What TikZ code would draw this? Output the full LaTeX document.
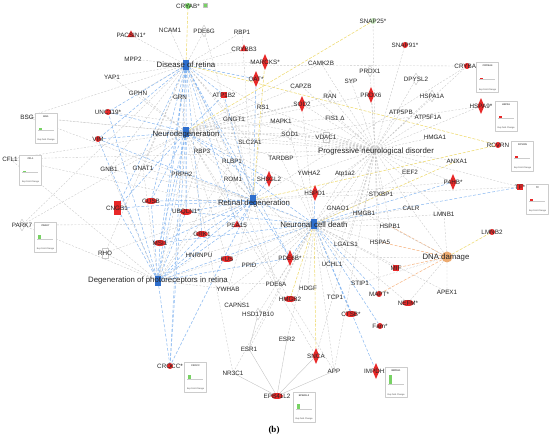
\documentclass[tikz,border=0pt]{standalone}
\usepackage{fontspec}
\setmainfont{Liberation Sans}
\newfontfamily\capfont{Liberation Serif}
\usetikzlibrary{shapes.geometric}
\definecolor{ipared}{RGB}{232,40,40}
\definecolor{ipagreen}{RGB}{120,210,100}
\definecolor{ipapale}{RGB}{200,232,190}
\definecolor{ipahub}{RGB}{45,110,205}
\definecolor{ipaorange}{RGB}{236,170,112}
\definecolor{eblue}{RGB}{135,183,240}
\definecolor{eyellow}{RGB}{238,218,110}
\definecolor{eorange}{RGB}{246,182,132}
\pgfdeclarelayer{bg}
\pgfsetlayers{bg,main}
\tikzstyle{every node}=[font=\fontsize{6.3}{7}\selectfont]
\tikzstyle{every path}=[line width=0.4pt,line join=round]
% labels and markers
\tikzstyle{lbl}=[inner sep=0pt,text=black!85]
\tikzstyle{hublbl}=[inner sep=0pt,text=black!85,font=\fontsize{7.8}{9}\selectfont]
\tikzstyle{gmark}=[circle,draw=gray!30,minimum size=4pt,inner sep=0pt]
\tikzstyle{gdia}=[diamond,draw=gray!45,minimum width=7pt,minimum height=12pt,inner sep=0pt]
\tikzstyle{grect}=[rectangle,draw=gray!45,minimum width=6pt,minimum height=10pt,inner sep=0pt]
\tikzstyle{rdia}=[diamond,fill=ipared,minimum width=7pt,minimum height=16pt,inner sep=0pt]
\tikzstyle{rdot}=[circle,fill=ipared,minimum size=6pt,inner sep=0pt]
\tikzstyle{rell}=[ellipse,fill=ipared,minimum width=12pt,minimum height=6pt,inner sep=0pt]
\tikzstyle{rsq}=[rectangle,fill=ipared,minimum size=6.5pt,inner sep=0pt]
\tikzstyle{rbar}=[rectangle,fill=ipared,minimum width=7pt,minimum height=14pt,inner sep=0pt]
\tikzstyle{rtri}=[regular polygon,regular polygon sides=3,fill=ipared,minimum size=9pt,inner sep=0pt]
\tikzstyle{gdot}=[circle,fill=ipagreen,minimum size=6pt,inner sep=0pt]
\tikzstyle{pdot}=[circle,fill=ipapale,minimum size=6pt,inner sep=0pt]
\tikzstyle{flag}=[rectangle,draw=gray!50,minimum size=4pt,inner sep=0pt]
\tikzstyle{hub}=[rectangle,fill=ipahub,minimum width=6pt,minimum height=10pt,inner sep=0pt]
\tikzstyle{ghub}=[circle,fill=gray!30,minimum size=6pt,inner sep=0pt]
\tikzstyle{ohub}=[circle,fill=ipaorange,minimum size=11pt,inner sep=0pt]
\tikzstyle{fbox}=[rectangle,draw=gray!40,fill=white,minimum width=22pt,minimum height=30pt,inner sep=0pt]
\tikzstyle{ftxt}=[inner sep=0pt,text=black!70,font=\fontsize{2.2}{2.6}\selectfont]
% connectors
\tikzstyle{eg}=[draw=gray!45,line width=0.35pt,dash pattern=on 2pt off 1.5pt]
\tikzstyle{eb}=[draw=eblue,line width=0.5pt,dash pattern=on 3pt off 1.8pt]
\tikzstyle{ey}=[draw=eyellow,line width=0.55pt,dash pattern=on 3pt off 1.5pt]
\tikzstyle{eo}=[draw=eorange,line width=0.55pt,dash pattern=on 3pt off 1.5pt]
\tikzstyle{es}=[draw=gray!50,line width=0.35pt]
\newcommand{\gene}[4]{\node[#3] (#1) at (#2) {};\node[lbl] (#1t) at (#2) {#4};}
\newcommand{\foldbox}[5]{%
  \node[fbox] (#1) at (#2) {};
  \node[ftxt,font=\fontsize{2.4}{2.8}\selectfont\bfseries] (#1t) at ([yshift=-3.5pt]#1.north) {#3};
  \draw[gray!40,line width=0.2pt] ([xshift=3pt,yshift=-17pt]#1.north west) -- ++(16pt,0pt);
  \fill[#4] ([xshift=4pt,yshift=-17pt]#1.north west) rectangle ++(3pt,#5);
  \node[ftxt] (#1c) at ([yshift=3pt]#1.south) {Exp Fold Change};}

\begin{document}
\begin{tikzpicture}[x=1pt,y=-1pt]
  \useasboundingbox (0,0) rectangle (550,438);
  % hubs
  \node[hub] (DR) at (186,65) {};
  \node[hublbl] (DRt) at (186,65) {Disease of retina};
  \node[hub] (ND) at (186,132) {};
  \node[hublbl] (NDt) at (186,134) {Neurodegeneration};
  \node[hub] (RD) at (253,200) {};
  \node[hublbl] (RDt) at (254,203) {Retinal degeneration};
  \node[hub] (NCD) at (314,224) {};
  \node[hublbl] (NCDt) at (314,225) {Neuronal cell death};
  \node[hub] (DP) at (158,281) {};
  \node[hublbl] (DPt) at (158,280) {Degeneration of photoreceptors in retina};
  \node[ghub] (PND) at (375,150) {};
  \node[hublbl] (PNDt) at (376,151) {Progressive neurological disorder};
  \node[ohub] (DD) at (447,257) {};
  \node[hublbl] (DDt) at (446,257) {DNA damage};
  % top and upper left
  \gene{CRYAB}{188,6}{gdot}{CRYAB*}
  \node[flag,fill=ipagreen] (CRYABf) at (205,5) {};
  \gene{NCAM1}{170,30}{gmark}{NCAM1}
  \gene{PDE6G}{204,31}{gdia}{PDE6G}
  \gene{RBP1}{242,32}{gmark}{RBP1}
  \gene{CRX3}{244,49}{rtri}{CRYBB3}
  \gene{MARCKS}{265,62}{rdia}{MARCKS*}
  \gene{OAT}{256,79}{rdia}{OAT*}
  \gene{PACSIN1}{131,35}{rtri}{PACSIN1*}
  \gene{MPP2}{133,59}{gmark}{MPP2}
  \gene{YAP1}{112,77}{gmark}{YAP1}
  \gene{GPHN}{138,93}{gmark}{GPHN}
  \gene{BSG}{27,117}{gmark}{BSG}
  \gene{UNC119}{108,112}{rdot}{UNC119*}
  \gene{VIM}{98,139}{rdot}{VIM}
  \gene{GRN}{180,97}{gmark}{GRN}
  \gene{ATP1B2}{224,95}{rsq}{ATP1B2}
  \gene{RS1}{263,107}{gmark}{RS1}
  \gene{GNGT1}{234,119}{gmark}{GNGT1}
  \gene{MAPK1}{281,121}{gmark}{MAPK1}
  \gene{SLC2A1}{250,142}{gmark}{SLC2A1}
  % upper right
  \gene{SNAP25}{373,21}{pdot}{SNAP25*}
  \gene{SNAP91}{405,45}{rdot}{SNAP91*}
  \gene{CAMK2B}{321,63}{gmark}{CAMK2B}
  \gene{PRDX1}{370,71}{gdia}{PRDX1}
  \gene{SYP}{351,81}{gmark}{SYP}
  \gene{DPYSL2}{416,79}{gdia}{DPYSL2}
  \gene{CAPZB}{301,86}{gmark}{CAPZB}
  \gene{RAN}{330,96}{gdia}{RAN}
  \gene{PRDX6}{371,95}{rdia}{PRDX6}
  \gene{SOD2}{302,104}{rdia}{SOD2}
  \gene{ATP5PB}{401,112}{gmark}{ATP5PB}
  \gene{FIS1}{335,118}{gmark}{FIS1 Δ}
  \gene{SOD1}{290,134}{gdia}{SOD1}
  \gene{VDAC1}{326,137}{grect}{VDAC1}
  \gene{CRX4}{467,66}{rdot}{CRYBA4}
  \gene{HSPA1A}{432,96}{gdia}{HSPA1A}
  \gene{HSPA9}{481,106}{rdia}{HSPA9*}
  \gene{ATP5F1A}{428,117}{gmark}{ATP5F1A}
  \gene{HMGA1}{435,137}{gmark}{HMGA1}
  \gene{RCVRN}{498,145}{rdot}{RCVRN}
  \gene{ANXA1}{457,161}{gmark}{ANXA1}
  \gene{EEF2}{410,172}{gmark}{EEF2}
  \gene{P4HB}{453,182}{rdia}{P4HB*}
  \gene{TF}{520,187}{rsq}{TF*}
  \gene{CALR}{411,208}{gmark}{CALR}
  \gene{LMNB1}{444,214}{gmark}{LMNB1}
  \gene{LMNB2}{492,232}{rdot}{LMNB2}
  \gene{APEX1}{447,292}{gmark}{APEX1}
  % left and middle
  \gene{CFL1}{10,159}{gmark}{CFL1}
  \gene{GNB1}{109,169}{gmark}{GNB1}
  \gene{GNAT1}{143,168}{gmark}{GNAT1}
  \gene{CNGB1}{117,208}{rbar}{CNGB1}
  \gene{PARK7}{22,225}{gdia}{PARK7}
  \gene{RHO}{105,253}{grect}{RHO}
  \gene{RBP3}{202,151}{gmark}{RBP3}
  \gene{RLBP1}{232,161}{gmark}{RLBP1}
  \gene{PRPH2}{182,174}{gmark}{PRPH2}
  \gene{ROM1}{233,179}{gmark}{ROM1}
  \gene{SH3GL2}{269,179}{rdia}{SH3GL2}
  \gene{TARDBP}{281,158}{gmark}{TARDBP}
  \gene{GUSB}{151,201}{rell}{GUSB}
  \gene{UBQLN1}{186,212}{rell}{UBQLN1*}
  \gene{PEA15}{237,225}{rtri}{PEA15}
  \gene{GRK1}{202,234}{rell}{GRK1}
  \gene{MSI1}{160,243}{rell}{MSI1}
  \gene{HNRNPU}{199,255}{gmark}{HNRNPU}
  \gene{FUS}{227,259}{rell}{FUS}
  \gene{PPID}{249,265}{gmark}{PPID}
  \gene{YWHAB}{228,289}{gmark}{YWHAB}
  \gene{YWHAZ}{309,173}{gmark}{YWHAZ}
  \gene{Atp1a2}{345,174}{gmark}{Atp1a2}
  \gene{HSPD1}{315,193}{rdia}{HSPD1}
  \gene{STXBP1}{381,194}{gmark}{STXBP1}
  \gene{GNAO1}{338,208}{gmark}{GNAO1}
  \gene{HMGB1}{364,213}{gmark}{HMGB1}
  \gene{HSPB1}{390,226}{gmark}{HSPB1}
  \gene{LGALS1}{346,244}{gmark}{LGALS1}
  \gene{HSPA5}{380,242}{gmark}{HSPA5}
  \gene{PDE6B}{290,258}{rdia}{PDE6B*}
  \gene{UCHL1}{332,264}{gmark}{UCHL1}
  \gene{MIF}{396,268}{rsq}{MIF}
  \gene{PDE6A}{276,284}{gmark}{PDE6A}
  \gene{HDGF}{308,288}{gmark}{HDGF}
  \gene{STIP1}{360,283}{gmark}{STIP1}
  \gene{MAPT}{379,294}{rdot}{MAPT*}
  % bottom
  \gene{HMGB2}{290,299}{rell}{HMGB2}
  \gene{TCP1}{335,297}{gmark}{TCP1}
  \gene{NEFM}{408,303}{rell}{NEFM*}
  \gene{CTSB}{351,314}{rell}{CTSB*}
  \gene{FAM}{380,326}{rdot}{Fam*}
  \gene{CAPNS1}{237,305}{gmark}{CAPNS1}
  \gene{HSD17B10}{258,314}{gdia}{HSD17B10}
  \gene{ESR2}{287,339}{gmark}{ESR2}
  \gene{ESR1}{249,349}{gmark}{ESR1}
  \gene{SNCA}{316,356}{rdia}{SNCA}
  \gene{CROCC}{170,366}{rdot}{CROCC*}
  \gene{NR3C1}{233,373}{gmark}{NR3C1}
  \gene{APP}{334,371}{gmark}{APP}
  \gene{IMPDH1}{376,371}{rdia}{IMPDH1}
  \gene{EPB41L2}{277,396}{rell}{EPB41L2}
  % fold change charts
  \foldbox{BSGfc}{46,128}{BSG}{ipagreen}{2pt}
  \foldbox{CFL1fc}{30.5,170}{CFL1}{ipagreen}{1pt}
  \foldbox{PARK7fc}{45.5,237}{PARK7}{ipagreen}{4pt}
  \foldbox{CRX4fc}{487.5,77.5}{CRYBA4}{ipared}{1.5pt}
  \foldbox{HSPA9fc}{506,116}{HSPA9}{ipared}{1.5pt}
  \foldbox{RCVRNfc}{522.5,156}{RCVRN}{ipared}{1.5pt}
  \foldbox{TFfc}{537.5,199}{TF}{ipared}{1.5pt}
  \foldbox{CROCCfc}{195.5,377}{CROCC}{ipagreen}{4pt}
  \foldbox{EPBfc}{304,407}{EPB41L2}{ipagreen}{5pt}
  \foldbox{IMPDHfc}{396,382.5}{IMPDH1}{ipagreen}{9pt}
  \node[font={\capfont\bfseries\fontsize{9}{10}\selectfont}] (cap) at (274,430) {(b)};
  \begin{pgfonlayer}{bg}
    % disease of retina
    \draw[ey] (DR) -- (CRYAB) (DR) -- (RCVRN);
    \draw[eg] (DR) -- (NCAM1) (DR) -- (PDE6G) (DR) -- (RBP1) (DR) -- (CRX3) (DR) -- (MARCKS)
      (DR) -- (PACSIN1) (DR) -- (MPP2) (DR) -- (YAP1) (DR) -- (GPHN) (DR) -- (BSG) (DR) -- (GRN)
      (DR) -- (RS1) (DR) -- (GNGT1) (DR) -- (CRX4) (DR) -- (RHO) (DR) -- (GNAT1) (DR) -- (GNB1)
      (DR) -- (PRPH2) (DR) -- (RBP3) (DR) -- (RLBP1) (DR) -- (ROM1) (DR) -- (SLC2A1) (DR) -- (PARK7)
      (DR) -- (PDE6A);
    \draw[eb] (DR) -- (UNC119) (DR) -- (VIM) (DR) -- (ATP1B2) (DR) -- (OAT) (DR) -- (CNGB1)
      (DR) -- (GUSB) (DR) -- (UBQLN1) (DR) -- (MSI1) (DR) -- (DP) (DR) -- (CROCC) (DR) -- (GRK1)
      (DR) -- (PEA15) (DR) -- (PDE6B) (DR) -- (ND) (DR) -- (RD);
    % neurodegeneration
    \draw[ey] (ND) -- (SNAP25);
    \draw[eb] (ND) -- (UNC119) (ND) -- (VIM) (ND) -- (CNGB1) (ND) -- (ATP1B2) (ND) -- (UBQLN1)
      (ND) -- (MSI1) (ND) -- (DP) (ND) -- (CROCC) (ND) -- (GUSB) (ND) -- (SH3GL2) (ND) -- (NCD);
    \draw[eg] (ND) -- (BSG) (ND) -- (CFL1) (ND) -- (GNB1) (ND) -- (GPHN) (ND) -- (YAP1) (ND) -- (GRN)
      (ND) -- (SOD2) (ND) -- (SOD1) (ND) -- (MAPK1) (ND) -- (CAMK2B) (ND) -- (FIS1) (ND) -- (VDAC1)
      (ND) -- (PRDX6) (ND) -- (TARDBP) (ND) -- (SLC2A1) (ND) -- (FUS) (ND) -- (SNCA) (ND) -- (APP)
      (ND) -- (HSPD1) (ND) -- (UCHL1) (ND) -- (PARK7) (ND) -- (GNAT1) (ND) -- (RS1) (ND) -- (CAPZB)
      (ND) -- (RAN) (ND) -- (NR3C1);
    % retinal degeneration
    \draw[ey] (RD) -- (RCVRN) (RD) -- (MARCKS);
    \draw[eb] (RD) -- (OAT) (RD) -- (CNGB1) (RD) -- (GUSB) (RD) -- (PEA15) (RD) -- (GRK1)
      (RD) -- (PDE6B) (RD) -- (CROCC) (RD) -- (UBQLN1) (RD) -- (MSI1) (RD) -- (DP) (RD) -- (ATP1B2)
      (RD) -- (SH3GL2);
    \draw[eg] (RD) -- (RLBP1) (RD) -- (ROM1) (RD) -- (RBP3) (RD) -- (PRPH2) (RD) -- (GNAT1)
      (RD) -- (RHO) (RD) -- (PDE6A) (RD) -- (GNGT1) (RD) -- (RS1) (RD) -- (TF) (RD) -- (P4HB)
      (RD) -- (CRX4) (RD) -- (PDE6G) (RD) -- (RBP1) (RD) -- (YWHAB) (RD) -- (GNB1);
    % neuronal cell death
    \draw[ey] (NCD) -- (SNCA) (NCD) -- (HMGB2) (NCD) -- (ANXA1);
    \draw[eb] (NCD) -- (HSPD1) (NCD) -- (PDE6B) (NCD) -- (TF) (NCD) -- (P4HB) (NCD) -- (MAPT)
      (NCD) -- (CTSB) (NCD) -- (FAM) (NCD) -- (DP) (NCD) -- (UBQLN1) (NCD) -- (VIM) (NCD) -- (MSI1)
      (NCD) -- (IMPDH1);
    \draw[eg] (NCD) -- (YWHAZ) (NCD) -- (Atp1a2) (NCD) -- (GNAO1) (NCD) -- (HMGB1) (NCD) -- (HSPB1)
      (NCD) -- (LGALS1) (NCD) -- (HSPA5) (NCD) -- (UCHL1) (NCD) -- (MIF) (NCD) -- (HDGF)
      (NCD) -- (STIP1) (NCD) -- (NEFM) (NCD) -- (APP) (NCD) -- (ESR2) (NCD) -- (TCP1) (NCD) -- (PDE6A)
      (NCD) -- (CAPNS1) (NCD) -- (HSD17B10) (NCD) -- (YWHAB) (NCD) -- (PPID) (NCD) -- (FUS)
      (NCD) -- (HNRNPU) (NCD) -- (ESR1) (NCD) -- (NR3C1) (NCD) -- (CALR) (NCD) -- (EEF2)
      (NCD) -- (STXBP1) (NCD) -- (SOD1) (NCD) -- (SOD2) (NCD) -- (PARK7) (NCD) -- (CFL1) (NCD) -- (BSG)
      (NCD) -- (TARDBP) (NCD) -- (APEX1) (NCD) -- (LMNB1) (NCD) -- (PND);
    % progressive neurological disorder
    \draw[eg] (PND) -- (SNAP25) (PND) -- (SNAP91) (PND) -- (PRDX1) (PND) -- (PRDX6) (PND) -- (CAMK2B)
      (PND) -- (SYP) (PND) -- (DPYSL2) (PND) -- (HSPA1A) (PND) -- (HSPA9) (PND) -- (ATP5PB)
      (PND) -- (ATP5F1A) (PND) -- (HMGA1) (PND) -- (ANXA1) (PND) -- (EEF2) (PND) -- (P4HB) (PND) -- (TF)
      (PND) -- (CALR) (PND) -- (STXBP1) (PND) -- (HMGB1) (PND) -- (GNAO1) (PND) -- (Atp1a2)
      (PND) -- (YWHAZ) (PND) -- (RAN) (PND) -- (CAPZB) (PND) -- (FIS1) (PND) -- (VDAC1) (PND) -- (SOD1)
      (PND) -- (SOD2) (PND) -- (MAPK1) (PND) -- (TARDBP) (PND) -- (SLC2A1) (PND) -- (CFL1) (PND) -- (BSG)
      (PND) -- (HSPD1) (PND) -- (UCHL1) (PND) -- (SNCA) (PND) -- (APP) (PND) -- (HSPB1) (PND) -- (HSPA5)
      (PND) -- (LGALS1) (PND) -- (MAPT) (PND) -- (CRX4) (PND) -- (LMNB1) (PND) -- (GNGT1) (PND) -- (RS1)
      (PND) -- (UNC119);
    % DNA damage
    \draw[eo] (DD) -- (HSPB1) (DD) -- (HSPA5) (DD) -- (MAPT) (DD) -- (MIF);
    \draw[ey] (DD) -- (LMNB2);
    \draw[eg] (DD) -- (LMNB1) (DD) -- (APEX1) (DD) -- (CALR) (DD) -- (HMGB1) (DD) -- (NEFM)
      (DD) -- (STIP1) (DD) -- (PDE6B);
    % degeneration of photoreceptors
    \draw[eb] (DP) -- (CNGB1) (DP) -- (GUSB) (DP) -- (MSI1) (DP) -- (UBQLN1) (DP) -- (CROCC)
      (DP) -- (PEA15) (DP) -- (GRK1) (DP) -- (PDE6B) (DP) -- (VIM) (DP) -- (UNC119);
    \draw[eg] (DP) -- (RHO) (DP) -- (GNAT1) (DP) -- (GNB1) (DP) -- (PRPH2) (DP) -- (RBP3) (DP) -- (ROM1)
      (DP) -- (RLBP1) (DP) -- (PDE6A) (DP) -- (FUS) (DP) -- (HNRNPU) (DP) -- (PARK7) (DP) -- (CFL1)
      (DP) -- (YWHAB);
    % gene to gene
    \draw[eg] (HSPA9) -- (SLC2A1);
    \draw[es] (ESR1) -- (EPB41L2) (NR3C1) -- (EPB41L2) (ESR2) -- (EPB41L2) (SNCA) -- (EPB41L2)
      (APP) -- (EPB41L2) (HSD17B10) -- (ESR1);
  \end{pgfonlayer}
\end{tikzpicture}
\end{document}
